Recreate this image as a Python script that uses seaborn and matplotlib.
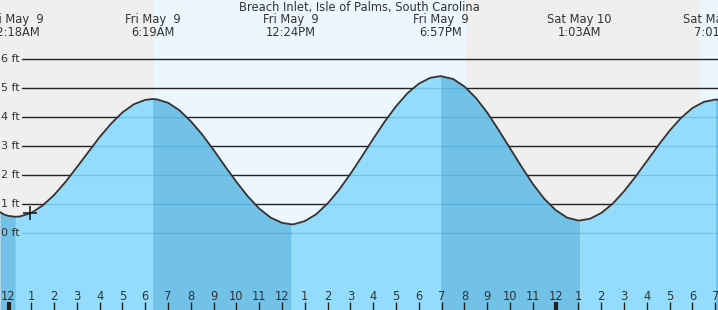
import numpy as np
import pandas as pd
import matplotlib
matplotlib.use("Agg")
import matplotlib.pyplot as plt
import matplotlib.transforms as mtransforms
import seaborn as sns

# ---------------- data (hours since Fri May 9 00:00, heights in ft) -------------
hours = [-0.373, -0.2, 0.0, 0.30, 0.5, 1, 1.5, 2, 2.5, 3, 3.5, 4, 4.5, 5, 5.5, 6,
         6.317, 6.5, 7, 7.5, 8, 8.5, 9, 9.5, 10, 10.5, 11, 11.5, 12, 12.40,
         12.5, 13, 13.5, 14, 14.5, 15, 15.5, 16, 16.5, 17, 17.5, 18, 18.5, 18.95,
         19.5, 20, 20.5, 21, 21.5, 22, 22.5, 23, 23.5, 24, 24.5, 25, 25.05,
         25.5, 26, 26.5, 27, 27.5, 28, 28.5, 29, 29.5, 30, 30.5, 31, 31.02, 31.12]
heights = [0.72, 0.64, 0.59, 0.56, 0.57, 0.69, 0.95, 1.31, 1.76, 2.27, 2.79, 3.31,
           3.77, 4.16, 4.44, 4.59,
           4.62, 4.61, 4.49, 4.23, 3.85, 3.39, 2.86, 2.30, 1.76, 1.26, 0.84, 0.53,
           0.35, 0.30,
           0.30, 0.41, 0.65, 1.02, 1.49, 2.04, 2.64, 3.25, 3.84, 4.37, 4.82, 5.15,
           5.35, 5.41,
           5.31, 5.05, 4.66, 4.15, 3.55, 2.92, 2.29, 1.69, 1.18, 0.79, 0.53, 0.43,
           0.43,
           0.49, 0.69, 1.01, 1.44, 1.94, 2.48, 3.02, 3.53, 3.97, 4.31, 4.52, 4.60,
           4.60, 4.60]

extreme_hours = [0.30, 6.317, 12.40, 18.95, 25.05, 31.02]
extreme_days = ["Fri May  9", "Fri May  9", "Fri May  9", "Fri May  9",
                "Sat May 10", "Sat May 10"]
extreme_times = ["12:18AM", "6:19AM", "12:24PM", "6:57PM", "1:03AM", "7:01AM"]

sun_hours = [6.38, 20.07, 30.33]          # sunrise, sunset, sunrise
ft_levels = [0, 1, 2, 3, 4, 5, 6]
ft_labels = ["0 ft", "1 ft", "2 ft", "3 ft", "4 ft", "5 ft", "6 ft"]
hour_ticks = list(range(0, 32))
hour_labels = [str((h % 12) or 12) for h in hour_ticks]
now_hour, now_height = 0.94, 0.69
title = "Breach Inlet, Isle of Palms, South Carolina"

# ---------------- style ----------------
sns.set_style("white")
plt.rcParams["font.family"] = ["DejaVu Sans"]
TXT = "#333333"
NIGHT = "#efefef"
DAY = "#ebf6ff"
RISE = "#94dcfc"
FALL = "#72c1e6"
FS = 8.3

W, H = 718, 310
fig = plt.figure(figsize=(W / 100, H / 100), dpi=100)
ax = fig.add_axes([0, 0, 1, 1])
x0, x1 = -0.373, 31.12
y0, y1 = -2.655, 8.034
ax.set_xlim(x0, x1)
ax.set_ylim(y0, y1)
ax.axis("off")

# day / night background
bounds = [x0] + sun_hours + [x1]
for i in range(len(bounds) - 1):
    ax.axvspan(bounds[i], bounds[i + 1], color=NIGHT if i % 2 == 0 else DAY,
               lw=0, zorder=0)

# gridlines (above water)
for v in ft_levels:
    ax.axhline(v, xmin=22 / W, xmax=1, color="#222222", lw=1.0, zorder=1)

# water fill, rising vs falling
df = pd.DataFrame({"hour": hours, "height": heights})
turns = [x0] + extreme_hours + [x1]
for i in range(len(turns) - 1):
    a, b = turns[i], turns[i + 1]
    seg = df[(df.hour >= a) & (df.hour <= b)]
    h_a = np.interp(a, df.hour, df.height)
    h_b = np.interp(b, df.hour, df.height)
    color = RISE if h_b > h_a else FALL
    ax.fill_between(seg.hour, seg.height, y0, color=color, lw=0, zorder=2)

# gridlines under water (tinted)
clip = ax.fill_between(df.hour, df.height, y0, facecolor="none", edgecolor="none")
clip_path = clip.get_paths()[0]
for v in ft_levels:
    ln = ax.axhline(v, xmin=22 / W, xmax=1, color="#3f9fd0", alpha=0.4, lw=1.0,
                    zorder=3)
    ln.set_clip_path(clip_path, transform=ax.transData)

# tide curve
sns.lineplot(data=df, x="hour", y="height", color="#333333", lw=1.3, zorder=5,
             ax=ax, sort=True)
ax.set_xlabel("")
ax.set_ylabel("")

# current time marker
ax.plot([now_hour], [now_height], marker="+", ms=10, mew=1.2, color="#222222",
        zorder=6)

# y labels
ytrans = mtransforms.blended_transform_factory(ax.transAxes, ax.transData)
for v, lab in zip(ft_levels, ft_labels):
    ax.text(20 / W, v, lab, transform=ytrans, ha="right", va="center",
            fontsize=8.0, color=TXT, zorder=7)

# hour labels and ticks
xtrans = mtransforms.blended_transform_factory(ax.transData, ax.transAxes)
for h, lab in zip(hour_ticks, hour_labels):
    ax.text(h, 1 - 296 / H, lab, transform=xtrans, ha="center", va="center",
            fontsize=FS, color=TXT, zorder=7)
    midnight = (h % 24 == 0)
    ax.plot([h, h], [0, 8 / H], transform=xtrans, color="#222222",
            lw=3 if midnight else 1.0, solid_capstyle="butt", zorder=7)

# title and extreme labels
ax.text(0.5, 1 - 7 / H, title, transform=ax.transAxes, ha="center", va="center",
        fontsize=FS, color=TXT, zorder=7)
for h, d, t in zip(extreme_hours, extreme_days, extreme_times):
    ax.text(h, 1 - 20 / H, d, transform=xtrans, ha="center", va="center",
            fontsize=FS, color=TXT, zorder=7)
    ax.text(h, 1 - 32 / H, t, transform=xtrans, ha="center", va="center",
            fontsize=FS, color=TXT, zorder=7)

fig.savefig("out.png", dpi=100)
